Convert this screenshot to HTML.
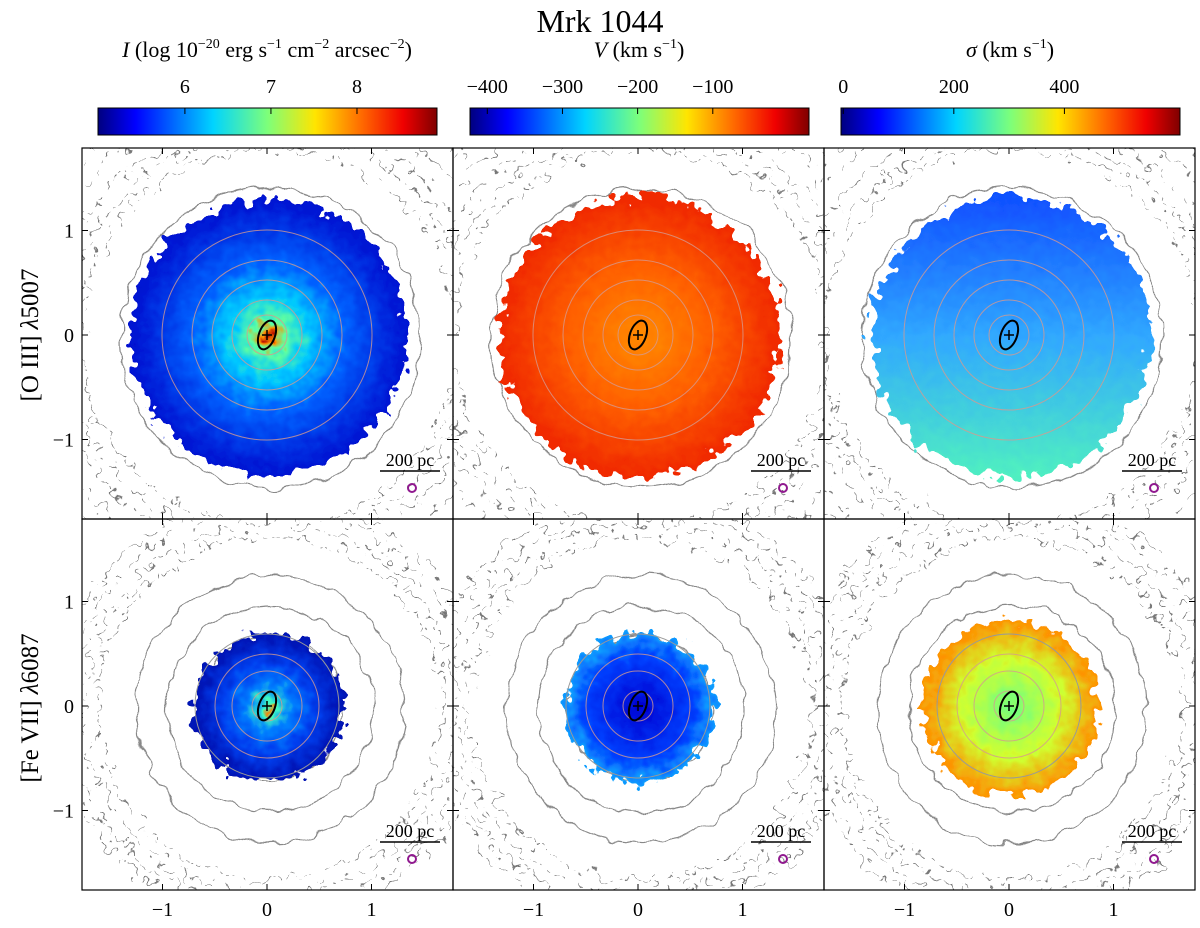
<!DOCTYPE html>
<html><head><meta charset="utf-8"><style>
html,body{margin:0;background:#fff;width:1200px;height:928px;overflow:hidden;}
svg{display:block;font-family:"Liberation Serif",serif;}
</style></head><body>
<svg id="fig" width="1200" height="928" viewBox="0 0 1200 928">
<defs>
<linearGradient id="jet" x1="0" x2="1" y1="0" y2="0">
<stop offset="0" stop-color="#00007f"/><stop offset="0.11" stop-color="#0000ff"/><stop offset="0.34" stop-color="#00d4ff"/><stop offset="0.5" stop-color="#7dff7a"/><stop offset="0.64" stop-color="#ffe500"/><stop offset="0.78" stop-color="#ff6800"/><stop offset="0.9" stop-color="#f00000"/><stop offset="1" stop-color="#7f0000"/>
</linearGradient>
<radialGradient id="g11"><stop offset="0" stop-color="#b00000"/><stop offset="0.05" stop-color="#ff9000"/><stop offset="0.12" stop-color="#60ffa0"/><stop offset="0.3" stop-color="#00c8ff"/><stop offset="0.55" stop-color="#0060ff"/><stop offset="1" stop-color="#0010d0"/></radialGradient>
<radialGradient id="g12"><stop offset="0" stop-color="#ff8a00"/><stop offset="0.5" stop-color="#ff6000"/><stop offset="1" stop-color="#f02800"/></radialGradient>
<linearGradient id="g13" x1="0" x2="0" y1="0" y2="1"><stop offset="0" stop-color="#1050ff"/><stop offset="0.5" stop-color="#30a8ff"/><stop offset="1" stop-color="#50f0c0"/></linearGradient>
<radialGradient id="g21"><stop offset="0" stop-color="#ff8000"/><stop offset="0.1" stop-color="#40ffc0"/><stop offset="0.3" stop-color="#0080ff"/><stop offset="0.6" stop-color="#0040f0"/><stop offset="1" stop-color="#0010b0"/></radialGradient>
<radialGradient id="g22"><stop offset="0" stop-color="#0000d0"/><stop offset="0.7" stop-color="#0040ff"/><stop offset="1" stop-color="#10a0ff"/></radialGradient>
<radialGradient id="g23"><stop offset="0" stop-color="#70ff80"/><stop offset="0.55" stop-color="#d0ff30"/><stop offset="1" stop-color="#ff9000"/></radialGradient>
<filter id="rough" x="-20%" y="-20%" width="140%" height="140%"><feTurbulence type="fractalNoise" baseFrequency="0.09" numOctaves="2" seed="3"/><feDisplacementMap in="SourceGraphic" scale="28" xChannelSelector="R" yChannelSelector="G"/></filter>
<filter id="wob" x="-20%" y="-20%" width="140%" height="140%"><feTurbulence type="fractalNoise" baseFrequency="0.05" numOctaves="2" seed="7"/><feDisplacementMap in="SourceGraphic" scale="14" xChannelSelector="R" yChannelSelector="G"/></filter>
<filter id="speck" x="-5%" y="-5%" width="110%" height="110%"><feTurbulence type="fractalNoise" baseFrequency="0.08" numOctaves="2" seed="11"/><feDisplacementMap in="SourceGraphic" scale="30" xChannelSelector="R" yChannelSelector="G"/></filter>
</defs>
<text x="600" y="32" font-size="32" text-anchor="middle">Mrk 1044</text>
<text x="267" y="57" font-size="22" text-anchor="middle"><tspan font-style="italic">I</tspan> (log 10<tspan font-size="14" dy="-9">−20</tspan><tspan dy="9"> erg s</tspan><tspan font-size="14" dy="-9">−1</tspan><tspan dy="9"> cm</tspan><tspan font-size="14" dy="-9">−2</tspan><tspan dy="9"> arcsec</tspan><tspan font-size="14" dy="-9">−2</tspan><tspan dy="9">)</tspan></text>
<text x="639" y="57" font-size="22" text-anchor="middle"><tspan font-style="italic">V</tspan> (km s<tspan font-size="14" dy="-9">−1</tspan><tspan dy="9">)</tspan></text>
<text x="1010" y="57" font-size="22" text-anchor="middle"><tspan font-style="italic">σ</tspan> (km s<tspan font-size="14" dy="-9">−1</tspan><tspan dy="9">)</tspan></text>
<g id="cbars"></g>
<g id="panels"></g>
<text transform="translate(38,335) rotate(-90)" font-size="25" text-anchor="middle">[O III] <tspan font-style="italic">λ</tspan>5007</text>
<text transform="translate(38,708) rotate(-90)" font-size="25" text-anchor="middle">[Fe VII] <tspan font-style="italic">λ</tspan>6087</text>
</svg>
<script>
const axisTicks=[-1,0,1];
const axisTickLabels=["−1","0","1"];
const cbI=[6,7,8], cbIRange=[4.99,8.93];
const cbV=[-400,-300,-200,-100], cbVRange=[-423,28];
const cbS=[0,200,400], cbSRange=[-4,609];
const colX=[82,453,824], rowY=[148,519], W=371, H=371;
const scale=104.5;
const NS="http://www.w3.org/2000/svg";
function mk(tag,attrs,parent){const e=document.createElementNS(NS,tag);for(const k in attrs)e.setAttribute(k,attrs[k]);parent.appendChild(e);return e;}
const cb=document.getElementById('cbars');
const cbs=[[cbI,cbIRange,98,["6","7","8"]],[cbV,cbVRange,470,["−400","−300","−200","−100"]],[cbS,cbSRange,841,["0","200","400"]]];
cbs.forEach((c,i)=>{
  const [ticks,rng,x0,lbl]=c;const w=339;
  const r=mk('rect',{x:x0,y:108,width:w,height:27,fill:'url(#jet)',stroke:'#000','stroke-width':1},cb);
  
  
  const sx=v=>x0+(v-rng[0])/(rng[1]-rng[0])*w;
  ticks.forEach((t,j)=>{
    mk('line',{x1:sx(t),x2:sx(t),y1:108,y2:114,stroke:'#000'},cb);
    const tx=mk('text',{x:sx(t),y:93,'font-size':20,'text-anchor':'middle'},cb);tx.textContent=lbl[j];
    
    
  });
});
const maps=[[{g:'g11',r:138},{g:'g12',r:140},{g:'g13',r:140}],[{g:'g21',r:75},{g:'g22',r:75},{g:'g23',r:88}]];
const P=document.getElementById('panels');
for(let ri=0;ri<2;ri++)for(let ci=0;ci<3;ci++){
  const x0=colX[ci],y0=rowY[ri];const cx=x0+(267-82),cy=y0+(335-148);
  const g=mk('g',{},P);
  
  
  const cl='clip'+ri+ci;const cp=mk('clipPath',{id:cl},g);mk('rect',{x:x0,y:y0,width:W,height:H},cp);
  const inner=mk('g',{'clip-path':'url(#'+cl+')'},g);
  const speckR=ri==0?[190,205,220,240,260,280]:[172,186,200,212];
  speckR.forEach((rr,k)=>mk('circle',{cx:cx+3,cy:cy+3,r:rr,fill:'none',stroke:'#777','stroke-width':1.2,'stroke-dasharray':(6+k)+' '+(5+k),filter:'url(#speck)'},inner));
  if(ri==0){
    mk('circle',{cx:cx+3,cy:cy+3,r:150,fill:'none',stroke:'#888','stroke-width':1.2,filter:'url(#wob)'},inner);
  } else {
    mk('circle',{cx:cx+3,cy:cy+3,r:72,fill:'none',stroke:'#888','stroke-width':1.2,filter:'url(#wob)'},inner);
    mk('circle',{cx:cx+3,cy:cy+3,r:103,fill:'none',stroke:'#888','stroke-width':1.2,filter:'url(#wob)'},inner);
    mk('circle',{cx:cx+3,cy:cy+3,r:134,fill:'none',stroke:'#888','stroke-width':1.2,filter:'url(#wob)'},inner);
  }
  const m=maps[ri][ci];
  const b=mk('circle',{cx:cx+2,cy:cy+2,r:m.r,fill:'url(#'+m.g+')',filter:'url(#rough)'},inner);
  
  
  const rings=ri==0?[20,35,55,75,105]:[15,35,52];
  rings.forEach(rr=>{mk('circle',{cx:cx,cy:cy,r:rr,fill:'none',stroke:'#d49a90','stroke-width':1,'stroke-opacity':0.8},inner);});
  if(ri==1)mk('circle',{cx:cx,cy:cy,r:72,fill:'none',stroke:'#999','stroke-width':1},inner);
  mk('ellipse',{cx:cx,cy:cy,rx:8,ry:15,transform:`rotate(20 ${cx} ${cy})`,fill:'none',stroke:'#000','stroke-width':2},inner);
  mk('path',{d:`M${cx-5} ${cy}h10M${cx} ${cy-5}v10`,stroke:'#000','stroke-width':1.5},inner);
  mk('line',{x1:x0+298,x2:x0+358,y1:y0+323,y2:y0+323,stroke:'#000','stroke-width':1.5},inner);
  const st=mk('text',{x:x0+328,y:y0+318,'font-size':18,'text-anchor':'middle'},inner);st.textContent='200 pc';
  
  
  mk('circle',{cx:x0+330,cy:y0+340,r:4,fill:'none',stroke:'#90198f','stroke-width':2},inner);
  mk('rect',{x:x0,y:y0,width:W,height:H,fill:'none',stroke:'#000','stroke-width':1.2},g);
  axisTicks.forEach((t,k)=>{
    const tx=cx+t*scale, ty=cy-t*scale;
    mk('line',{x1:tx,x2:tx,y1:y0+H,y2:y0+H-6,stroke:'#000'},g);
    mk('line',{x1:tx,x2:tx,y1:y0,y2:y0+6,stroke:'#000'},g);
    mk('line',{x1:x0,x2:x0+6,y1:ty,y2:ty,stroke:'#000'},g);
    mk('line',{x1:x0+W,x2:x0+W-6,y1:ty,y2:ty,stroke:'#000'},g);
    if(ri==1){const l=mk('text',{x:tx,y:916,'font-size':20,'text-anchor':'middle'},g);l.textContent=axisTickLabels[k];
      
      }
    if(ci==0){const l=mk('text',{x:74,y:ty+7,'font-size':20,'text-anchor':'end'},g);l.textContent=axisTickLabels[k];
      
      }
  });
}
</script>
</body></html>
